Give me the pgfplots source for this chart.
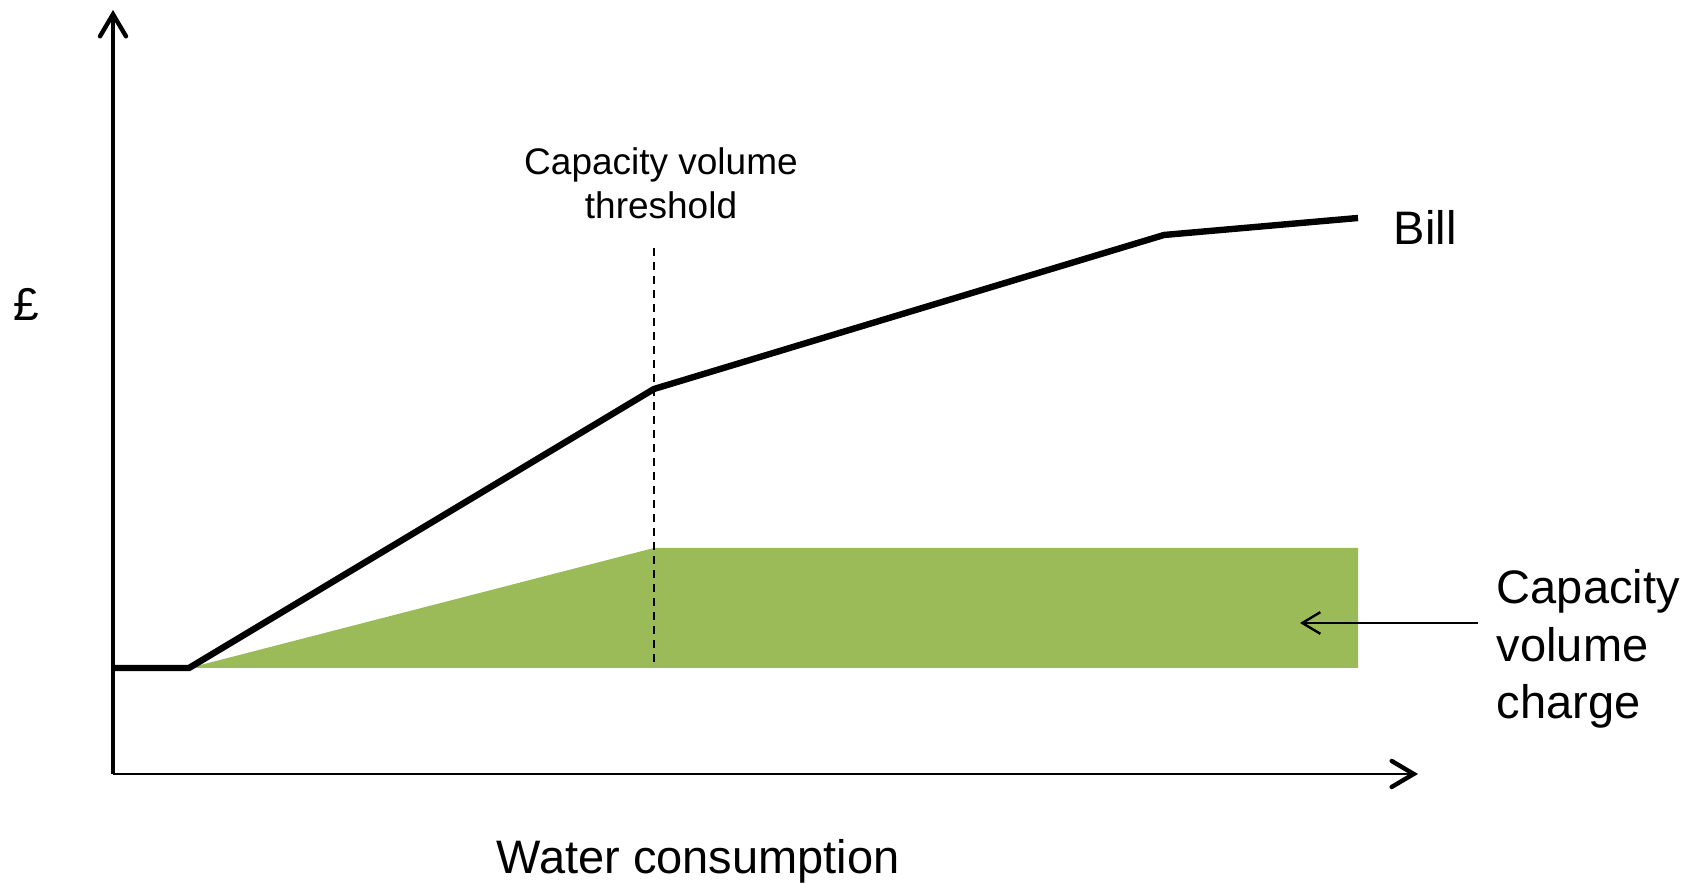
\documentclass[border=0pt]{standalone}
\usepackage{fontspec}
\setmainfont{Liberation Sans}
\usepackage{pgfplots}
\pgfplotsset{compat=1.18}
\usetikzlibrary{arrows.meta}
\definecolor{capgreen}{HTML}{9BBB59}

\begin{document}
\begin{tikzpicture}
\begin{axis}[
    scale only axis,
    width=326.25pt, height=191pt,
    xmin=113, xmax=1418, ymin=0, ymax=764,
    axis lines=left,
    xtick=\empty, ytick=\empty,
    x axis line style={line width=0.7pt, -{Straight Barb[length=5.5pt,width=6.5pt,line width=1.1pt,line cap=round]}},
    y axis line style={line width=1.1pt, -{Straight Barb[length=5.5pt,width=6.5pt,line width=1.1pt,line cap=round]}},
    clip=false,
]
% capacity volume charge area
\addplot[fill=capgreen, draw=none] coordinates {
(189,106) (654,226) (1358,226) (1358,106)
} -- cycle;
% threshold
\addplot[black, line width=0.5pt, dash pattern=on 2pt off 1.5pt] coordinates {
(654,526) (654,111)
};
% bill
\addplot[black, line width=1.6pt] coordinates {
(113,106) (189,106) (654,385) (1164,539) (1358,556)
};
% annotation arrow
\addplot[black, line width=0.6pt, -{Straight Barb[length=4.5pt,width=5.4pt]}] coordinates {
(1478,151) (1300,151)
};

\node[align=center, font=\fontsize{9.25}{11}\selectfont] at (axis cs:661,591)
    {Capacity volume\\threshold};
\node[anchor=west, inner sep=0pt, font=\fontsize{11.75}{14}\selectfont] at (axis cs:1393,547) {Bill};
\node[anchor=west, inner sep=0pt, align=left, font=\fontsize{11.75}{14.4}\selectfont] at (axis cs:1496,125)
    {Capacity\\volume\\charge};
\node[font=\fontsize{11.75}{14}\selectfont] at (axis cs:698,-87) {Water consumption};
\node[font=\fontsize{11.5}{13}\selectfont] at (axis cs:26,470) {£};

\coordinate (bbsw) at (axis cs:0,-110);
\coordinate (bbne) at (axis cs:1704,774);
\end{axis}
\pgfresetboundingbox
\path (bbsw) rectangle (bbne);
\end{tikzpicture}
\end{document}
